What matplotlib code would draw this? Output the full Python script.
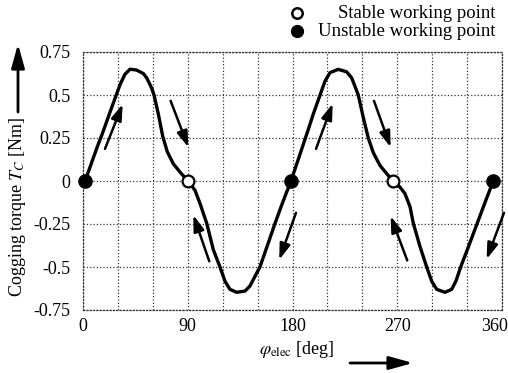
import matplotlib
matplotlib.use("Agg")
import matplotlib.pyplot as plt
import matplotlib.transforms as mtrans
from matplotlib.lines import Line2D

plt.rcParams['font.family'] = ['Liberation Serif', 'DejaVu Serif']
plt.rcParams['mathtext.fontset'] = 'stix'

# cogging torque curve (deg, Nm)
angle = [1.7, 6, 11.8, 17.4, 23.2, 27.5, 31.8, 36, 40.4, 46, 51.8, 54.7, 59, 61,
         64.7, 68.5, 72.4, 77.6, 83.3, 90.2, 96.2, 100.5, 106.3, 112, 117.7, 122,
         126.3, 132, 139.2, 143.5, 147.8, 152, 159.2, 165, 170.7, 175, 178.7,
         186.4, 193.6, 197.9, 202.1, 207.9, 212.2, 219.3, 226.5, 230.8, 233.7,
         236.5, 240.8, 245.1, 249.4, 255.2, 260.9, 266.3, 272.3, 276.6, 281,
         283.8, 289.5, 295.3, 299.6, 303.9, 311, 316.8, 320.5, 324.5, 331, 338.2,
         345.4, 352.5]
torque = [0.0, 0.08, 0.19, 0.29, 0.40, 0.48, 0.56, 0.62, 0.65, 0.645, 0.625,
          0.60, 0.54, 0.5, 0.39, 0.26, 0.17, 0.1, 0.052, 0.0, -0.054, -0.13,
          -0.246, -0.4, -0.5, -0.583, -0.63, -0.647, -0.64, -0.61, -0.554, -0.5,
          -0.36, -0.246, -0.14, -0.064, 0.0,
          0.155, 0.30, 0.39, 0.47, 0.58, 0.63, 0.649, 0.635, 0.6, 0.55, 0.5, 0.37,
          0.25, 0.165, 0.09, 0.043, 0.0, -0.035, -0.073, -0.15, -0.246, -0.38,
          -0.5, -0.583, -0.63, -0.647, -0.63, -0.58, -0.5, -0.385, -0.255,
          -0.125, 0.0]

stable_angle = [90.2, 266.3]
unstable_angle = [1.7, 178.7, 352.5]

# direction arrows (start -> end)
arrow_x0 = [18.9, 75.3, 108.5, 183.0, 200.2, 250.0, 278.6, 361.7]
arrow_y0 = [0.187, 0.466, -0.467, -0.185, 0.187, 0.466, -0.462, -0.185]
arrow_x1 = [34.1, 90.5, 94.8, 168.6, 214.5, 264.3, 264.3, 346.8]
arrow_y1 = [0.447, 0.196, -0.198, -0.458, 0.45, 0.196, -0.204, -0.454]

xticks = [0, 90, 180, 270, 360]
xgrid = [30, 60, 120, 150, 210, 240, 300, 330]
yticks = [-0.75, -0.5, -0.25, 0, 0.25, 0.5, 0.75]
ylabels = ['-0.75', '-0.5', '-0.25', '0', '0.25', '0.5', '0.75']

fig = plt.figure(figsize=(5.08, 3.73), dpi=100)
ax = fig.add_axes([83/508, 63/373, 419/508, 258/373])

ax.plot(angle, torque, color='black', lw=2.4, solid_joinstyle='round',
        solid_capstyle='round', zorder=3, clip_on=False)
ax.plot(unstable_angle, [0]*len(unstable_angle), 'o', ms=9.5, color='black',
        zorder=5, clip_on=False)
ax.plot(stable_angle, [0]*len(stable_angle), 'o', ms=8.5, mfc='white', mec='black',
        mew=1.6, zorder=5, clip_on=False)

for x0, y0, x1, y1 in zip(arrow_x0, arrow_y0, arrow_x1, arrow_y1):
    ax.annotate('', xy=(x1, y1), xytext=(x0, y0), annotation_clip=False,
                arrowprops=dict(arrowstyle='-|>,head_length=0.6,head_width=0.2',
                                color='black', lw=1.8, mutation_scale=16,
                                shrinkA=0, shrinkB=0))

ax.set_xlim(0, 360)
ax.set_ylim(-0.75, 0.75)
ax.set_xticks(xticks)
ax.set_xticks(xgrid, minor=True)
ax.set_yticks(yticks)
ax.set_yticklabels(ylabels)
ax.tick_params(which='both', length=0, labelsize=13)
ax.tick_params(axis='y', pad=9)
ax.tick_params(axis='x', pad=6)
ax.grid(which='both', ls=':', lw=0.9, color='#333333')
for s in ax.spines.values():
    s.set_linestyle(':')
    s.set_linewidth(0.9)
    s.set_color('#333333')

# last tick label sits against the picture edge
lab = ax.get_xticklabels()[-1]
lab.set_horizontalalignment('right')
lab.set_transform(lab.get_transform() + mtrans.ScaledTranslation(0.06, 0, fig.dpi_scale_trans))

# axis labels with arrows
fig.text(18/508, 1 - 207/373, r'Cogging torque $T_C$ [Nm]', rotation=90,
         ha='center', va='center', fontsize=13)
fig.text(297/508, 1 - 350/373, r'$\varphi_{\mathrm{elec}}$ [deg]',
         ha='center', va='center', fontsize=13)
arrow_big = dict(arrowstyle='-|>,head_length=0.9,head_width=0.25', color='black',
                 lw=2.0, mutation_scale=16, shrinkA=0, shrinkB=0)
ax.annotate('', xy=(18/508, 1 - 44/373), xytext=(18/508, 1 - 112/373),
            xycoords='figure fraction', arrowprops=arrow_big)
ax.annotate('', xy=(413/508, 1 - 363/373), xytext=(350/508, 1 - 363/373),
            xycoords='figure fraction', arrowprops=arrow_big)

# legend
fig.add_artist(Line2D([297/508], [1 - 13/373], marker='o', ms=7.5, mfc='white',
                      mec='black', mew=1.8, ls='none'))
fig.add_artist(Line2D([297/508], [1 - 31/373], marker='o', ms=8.5, color='black',
                      ls='none'))
fig.text(496/508, 1 - 13/373, 'Stable working point', ha='right', va='center',
         fontsize=13.5)
fig.text(496/508, 1 - 31/373, 'Unstable working point', ha='right', va='center',
         fontsize=13.5)

fig.savefig('out.png', dpi=100)
